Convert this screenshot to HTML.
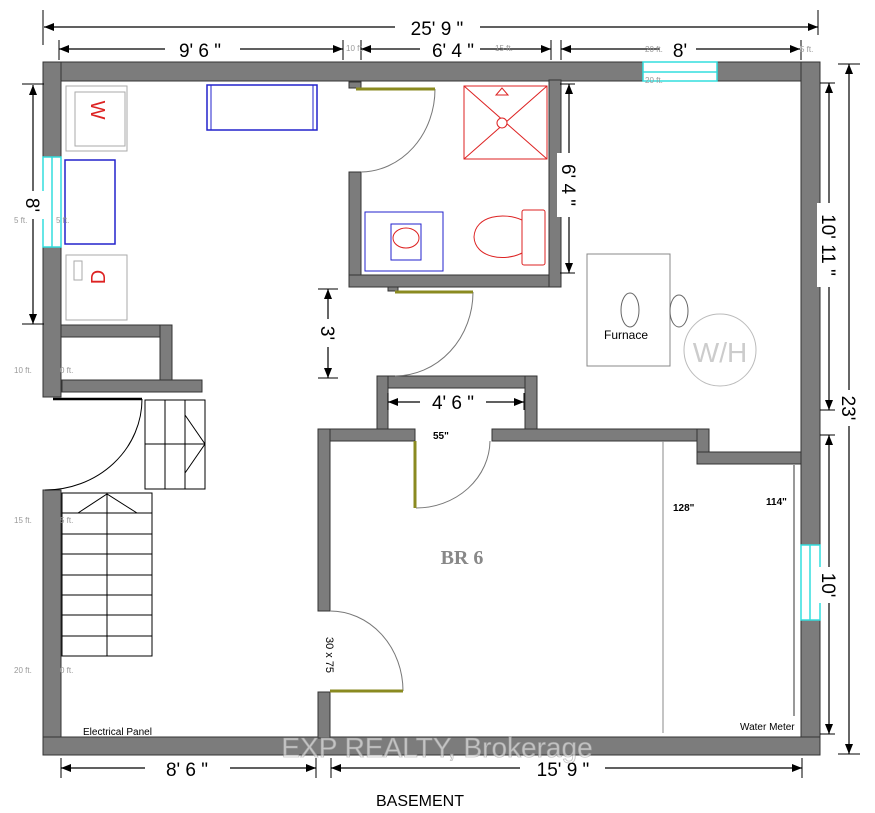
<!DOCTYPE html>
<html><head><meta charset="utf-8"><style>html,body{margin:0;padding:0;background:#fff}svg{display:block}</style></head>
<body>
<svg width="875" height="813" viewBox="0 0 875 813" xmlns="http://www.w3.org/2000/svg" font-family="Liberation Sans, sans-serif">
<defs><marker id="a" markerWidth="10" markerHeight="8" refX="10" refY="4" orient="auto-start-reverse" markerUnits="userSpaceOnUse"><path d="M0,0 L10,4 L0,8z" fill="#000"/></marker></defs>
<g fill="#7c7c7c" stroke="#333" stroke-width="1">
<rect x="43" y="62" width="777" height="19"/>
<rect x="43" y="62" width="18" height="335"/>
<rect x="43" y="490" width="18" height="265"/>
<rect x="801" y="62" width="19" height="693"/>
<rect x="43" y="737" width="777" height="18"/>
<rect x="61" y="325" width="111" height="12"/>
<rect x="160" y="325" width="12" height="55"/>
<rect x="62" y="380" width="140" height="12"/>
<rect x="349" y="172" width="12" height="115"/>
<rect x="349" y="275" width="212" height="12"/>
<rect x="549" y="80" width="12" height="207"/>
<rect x="349" y="82" width="12" height="6"/>
<rect x="388" y="287" width="10" height="4"/>
<rect x="377" y="376" width="160" height="12"/>
<rect x="377" y="376" width="11" height="54"/>
<rect x="525" y="376" width="12" height="54"/>
<rect x="318" y="429" width="97" height="12"/>
<rect x="492" y="429" width="217" height="12"/>
<rect x="697" y="429" width="12" height="35"/>
<rect x="697" y="452" width="104" height="12"/>
<rect x="318" y="429" width="12" height="182"/>
<rect x="318" y="692" width="12" height="46"/>
</g>
<g fill="#fff" stroke="#3dd" stroke-width="1.5">
<rect x="43" y="157" width="18" height="90"/><line x1="52" y1="157" x2="52" y2="247"/>
<rect x="643" y="62" width="74" height="19"/><line x1="643" y1="72" x2="717" y2="72"/>
<rect x="801" y="545" width="19" height="75"/><line x1="810" y1="545" x2="810" y2="620"/>
</g>
<g fill="none" stroke="#777" stroke-width="1">
<path d="M435,89 A75,83 0 0 1 361,172"/>
<path d="M473,292 A78,84 0 0 1 395,376"/>
<path d="M416,508 A74,68 0 0 0 490,441"/>
<path d="M403,691 A73,80 0 0 0 330,611"/>
</g>
<path d="M142,399 A97,91 0 0 1 45,490" fill="none" stroke="#000" stroke-width="1"/>
<line x1="53" y1="399" x2="142" y2="399" stroke="#000" stroke-width="2.5"/>
<g stroke="#8a8a20" stroke-width="3">
<line x1="356" y1="89" x2="435" y2="89"/>
<line x1="395" y1="292" x2="473" y2="292"/>
<line x1="415" y1="441" x2="415" y2="508"/>
<line x1="330" y1="691" x2="403" y2="691"/>
</g>
<g fill="none" stroke="#000" stroke-width="1">
<rect x="145" y="400" width="60" height="89"/>
<line x1="165" y1="400" x2="165" y2="489"/><line x1="185" y1="400" x2="185" y2="489"/><line x1="145" y1="444" x2="205" y2="444"/>
<polyline points="185,415 205,444 185,473"/>
<rect x="62" y="493" width="90" height="163"/>
<line x1="107" y1="493" x2="107" y2="656"/>
<path d="M62,513H152M62,534H152M62,554H152M62,575H152M62,595H152M62,615H152M62,636H152"/>
<polyline points="78,513 107,494 137,513"/>
</g>
<line x1="663" y1="441" x2="663" y2="733" stroke="#888" stroke-width="1"/>
<line x1="794" y1="465" x2="794" y2="716" stroke="#333" stroke-width="1"/>
<g fill="none">
<rect x="66" y="86" width="61" height="65" stroke="#aaa"/><rect x="75" y="92" width="50" height="54" stroke="#aaa"/>
<rect x="65" y="160" width="50" height="84" stroke="#22c" stroke-width="1.5"/>
<rect x="66" y="255" width="61" height="65" stroke="#aaa"/><rect x="74" y="261" width="8" height="19" stroke="#aaa"/>
<rect x="207" y="85" width="110" height="45" stroke="#22c" stroke-width="1.5"/><line x1="211" y1="85" x2="211" y2="130" stroke="#22c"/><line x1="313" y1="85" x2="313" y2="130" stroke="#22c"/>
<g stroke="#d22"><rect x="464" y="86" width="83" height="73"/><line x1="464" y1="86" x2="547" y2="159"/><line x1="547" y1="86" x2="464" y2="159"/><circle cx="502" cy="123" r="5" fill="#fff"/><path d="M502,88 L496,95 H508z"/>
<rect x="522" y="210" width="23" height="55" rx="2"/><path d="M522,220 C505,212 475,215 474,237 C475,258 505,262 522,253"/></g>
<rect x="365" y="212" width="78" height="59" stroke="#22c"/><rect x="391" y="224" width="30" height="36" stroke="#22c"/>
<ellipse cx="406" cy="238" rx="13" ry="10" stroke="#d22"/>
<rect x="587" y="254" width="83" height="112" stroke="#888"/>
<ellipse cx="630" cy="310" rx="9" ry="17" stroke="#666"/><ellipse cx="679" cy="311" rx="9" ry="16" stroke="#666"/>
<circle cx="720" cy="350" r="36" stroke="#bbb"/>
</g>
<g font-size="20" fill="#d22" text-anchor="middle"><text transform="translate(98,110) rotate(90)" y="7">W</text><text transform="translate(98,277) rotate(-90)" y="7">D</text></g>
<text x="626" y="339" font-size="12" text-anchor="middle">Furnace</text>
<text x="720" y="362" font-size="28" fill="#ccc" text-anchor="middle">W/H</text>
<g stroke="#000" stroke-width="1.2" fill="none" marker-start="url(#a)" marker-end="url(#a)">
<line x1="44" y1="27" x2="818" y2="27"/>
<line x1="59" y1="49" x2="343" y2="49"/><line x1="361" y1="49" x2="551" y2="49"/><line x1="561" y1="49" x2="800" y2="49"/>
<line x1="33" y1="85" x2="33" y2="324"/><line x1="569" y1="84" x2="569" y2="273"/><line x1="328" y1="289" x2="328" y2="378"/>
<line x1="388" y1="402" x2="524" y2="402"/>
<line x1="829" y1="83" x2="829" y2="410"/><line x1="849" y1="64" x2="849" y2="754"/><line x1="829" y1="435" x2="829" y2="734"/>
<line x1="61" y1="768" x2="316" y2="768"/><line x1="331" y1="768" x2="802" y2="768"/>
</g>
<g stroke="#000" stroke-width="1">
<path d="M43,10V45M818,10V35M59,40V60M343,40V60M361,40V60M551,40V60M561,40V60M801,40V60M22,84H44M22,324H44M560,84H575M560,273H575M318,289H338M318,378H338M388,393V410M524,393V410M820,83H835M820,410H835M820,435H835M820,734H835M838,64H860M838,754H860M61,758V778M316,758V778M331,758V778M802,758V778"/>
</g>
<g font-size="19" text-anchor="middle" fill="#000">
<rect x="395" y="14" width="85" height="24" fill="#fff"/><text x="437" y="35">25' 9 "</text>
<rect x="165" y="38" width="75" height="22" fill="#fff"/><text x="200" y="57">9' 6 "</text>
<rect x="420" y="38" width="60" height="22" fill="#fff"/><text x="453" y="57">6' 4 "</text>
<rect x="660" y="38" width="36" height="22" fill="#fff"/><text x="680" y="57">8'</text>
<rect x="420" y="392" width="66" height="20" fill="#fff"/><text x="453" y="409">4' 6 "</text>
<rect x="145" y="757" width="85" height="22" fill="#fff"/><text x="187" y="776">8' 6 "</text>
<rect x="520" y="757" width="85" height="22" fill="#fff"/><text x="563" y="776">15' 9 "</text>
<g transform="translate(33,205) rotate(90)"><rect x="-14" y="-12" width="28" height="24" fill="#fff"/><text y="7">8'</text></g>
<g transform="translate(569,185) rotate(90)"><rect x="-32" y="-12" width="64" height="24" fill="#fff"/><text y="7">6' 4 "</text></g>
<g transform="translate(328,333) rotate(90)"><rect x="-14" y="-12" width="28" height="24" fill="#fff"/><text y="7">3'</text></g>
<g transform="translate(829,245) rotate(90)"><rect x="-42" y="-12" width="84" height="24" fill="#fff"/><text y="7">10' 11 "</text></g>
<g transform="translate(849,408) rotate(90)"><rect x="-18" y="-12" width="36" height="24" fill="#fff"/><text y="7">23'</text></g>
<g transform="translate(829,585) rotate(90)"><rect x="-18" y="-12" width="36" height="24" fill="#fff"/><text y="7">10'</text></g>
</g>
<g font-size="8" fill="#999"><text x="346" y="51">10 ft.</text><text x="495" y="51">15 ft.</text><text x="645" y="52">20 ft.</text><text x="645" y="83">20 ft.</text><text x="800" y="52">5 ft.</text><text x="14" y="223">5 ft.</text><text x="56" y="223">5 ft.</text><text x="14" y="373">10 ft.</text><text x="60" y="373">0 ft.</text><text x="14" y="523">15 ft.</text><text x="60" y="523">5 ft.</text><text x="14" y="673">20 ft.</text><text x="60" y="673">0 ft.</text></g>
<g font-size="10" font-weight="bold"><text x="433" y="439">55"</text><text x="673" y="511">128"</text><text x="766" y="505">114"</text></g>
<text x="462" y="564" font-family="Liberation Serif, serif" font-size="20" font-weight="bold" fill="#888" text-anchor="middle">BR 6</text>
<text transform="translate(326,655) rotate(90)" font-size="11" text-anchor="middle">30 x 75</text>
<text x="83" y="735" font-size="10">Electrical Panel</text>
<text x="740" y="730" font-size="10">Water Meter</text>
<text x="420" y="806" font-size="16" text-anchor="middle">BASEMENT</text>
<text x="437" y="757" font-size="28" fill="#fff" fill-opacity="0.55" stroke="#999" stroke-opacity="0.6" stroke-width="0.8" text-anchor="middle">EXP REALTY, Brokerage</text>
</svg>
</body></html>
